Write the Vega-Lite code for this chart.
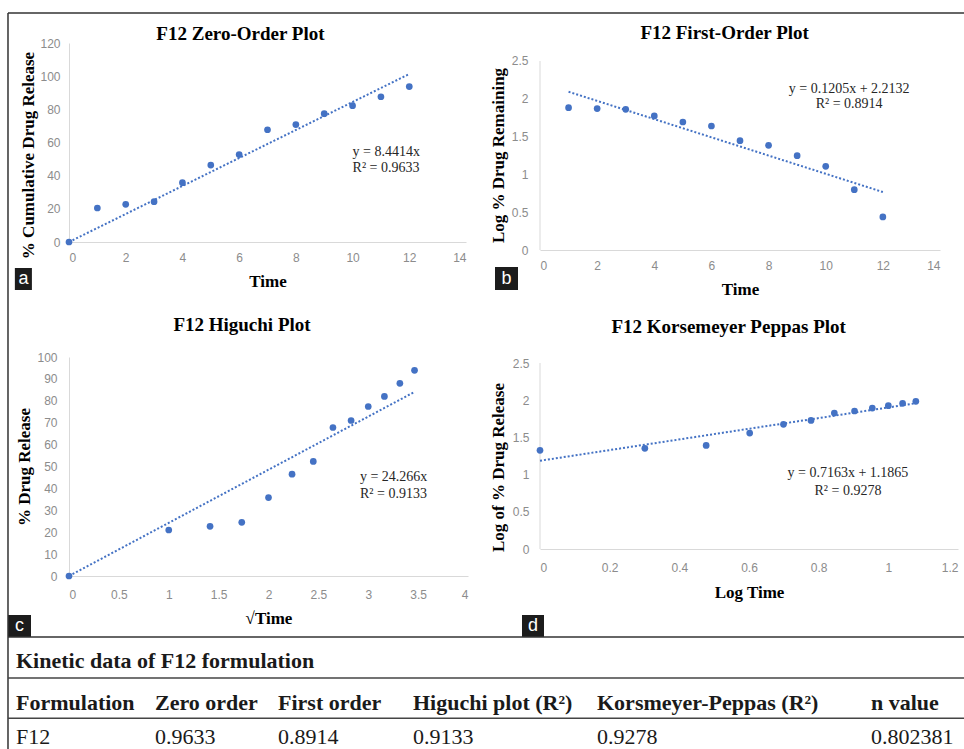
{
  "$schema": "https://vega.github.io/schema/vega-lite/v6.json",
  "padding": {"left": 7, "top": 12, "right": 0, "bottom": 0},
  "background": "white",
  "columns": 2,
  "spacing": {"row": 107, "column": 72},
  "bounds": "flush",
  "align": "each",
  "datasets": {
    "zero": [
      {"time": 0, "release": 0}, {"time": 1, "release": 20.5}, {"time": 2, "release": 22.7},
      {"time": 3, "release": 24.3}, {"time": 4, "release": 35.8}, {"time": 5, "release": 46.4},
      {"time": 6, "release": 52.7}, {"time": 7, "release": 67.7}, {"time": 8, "release": 70.8},
      {"time": 9, "release": 77.4}, {"time": 10, "release": 82.2}, {"time": 11, "release": 87.6},
      {"time": 12, "release": 93.7}
    ],
    "zeroFit": [{"time": 0, "release": 0}, {"time": 12, "release": 101.3}],
    "first": [
      {"time": 1, "logRemaining": 1.883}, {"time": 2, "logRemaining": 1.870}, {"time": 3, "logRemaining": 1.861},
      {"time": 4, "logRemaining": 1.773}, {"time": 5, "logRemaining": 1.693}, {"time": 6, "logRemaining": 1.640},
      {"time": 7, "logRemaining": 1.446}, {"time": 8, "logRemaining": 1.384}, {"time": 9, "logRemaining": 1.248},
      {"time": 10, "logRemaining": 1.107}, {"time": 11, "logRemaining": 0.798}, {"time": 12, "logRemaining": 0.437}
    ],
    "firstFit": [{"time": 1, "logRemaining": 2.093}, {"time": 12, "logRemaining": 0.767}],
    "higuchi": [
      {"sqrtTime": 0, "release": 0}, {"sqrtTime": 1, "release": 21.0}, {"sqrtTime": 1.414, "release": 22.7},
      {"sqrtTime": 1.732, "release": 24.5}, {"sqrtTime": 2, "release": 35.8}, {"sqrtTime": 2.236, "release": 46.5},
      {"sqrtTime": 2.449, "release": 52.3}, {"sqrtTime": 2.646, "release": 67.8}, {"sqrtTime": 2.828, "release": 71.0},
      {"sqrtTime": 3, "release": 77.4}, {"sqrtTime": 3.162, "release": 82.0}, {"sqrtTime": 3.317, "release": 88.0},
      {"sqrtTime": 3.464, "release": 93.9}
    ],
    "higuchiFit": [{"sqrtTime": 0, "release": 0}, {"sqrtTime": 3.464, "release": 84.06}],
    "peppas": [
      {"logTime": 0, "logRelease": 1.326}, {"logTime": 0.301, "logRelease": 1.353}, {"logTime": 0.477, "logRelease": 1.393},
      {"logTime": 0.602, "logRelease": 1.559}, {"logTime": 0.699, "logRelease": 1.676}, {"logTime": 0.778, "logRelease": 1.729},
      {"logTime": 0.845, "logRelease": 1.828}, {"logTime": 0.903, "logRelease": 1.855}, {"logTime": 0.954, "logRelease": 1.895},
      {"logTime": 1.0, "logRelease": 1.926}, {"logTime": 1.041, "logRelease": 1.958}, {"logTime": 1.079, "logRelease": 1.985}
    ],
    "peppasFit": [{"logTime": 0, "logRelease": 1.1865}, {"logTime": 1.079, "logRelease": 1.9595}],
    "kinetic": [
      {"row": 0, "col": 0, "label": "Kinetic data of F12 formulation", "kind": "caption"},
      {"row": 1, "col": 0, "label": "Formulation", "kind": "header"},
      {"row": 1, "col": 1, "label": "Zero order", "kind": "header"},
      {"row": 1, "col": 2, "label": "First order", "kind": "header"},
      {"row": 1, "col": 3, "label": "Higuchi plot (R²)", "kind": "header"},
      {"row": 1, "col": 4, "label": "Korsmeyer-Peppas (R²)", "kind": "header"},
      {"row": 1, "col": 5, "label": "n value", "kind": "header"},
      {"row": 2, "col": 0, "label": "F12", "kind": "value"},
      {"row": 2, "col": 1, "label": "0.9633", "kind": "value"},
      {"row": 2, "col": 2, "label": "0.8914", "kind": "value"},
      {"row": 2, "col": 3, "label": "0.9133", "kind": "value"},
      {"row": 2, "col": 4, "label": "0.9278", "kind": "value"},
      {"row": 2, "col": 5, "label": "0.802381", "kind": "value"}
    ]
  },
  "config": {
    "view": {"stroke": null},
    "font": "Liberation Serif",
    "axis": {
      "grid": false, "ticks": false, "domainColor": "#d9d9d9", "domainWidth": 1,
      "labelColor": "#8c8c8c", "labelFont": "Liberation Sans Narrow, Liberation Sans, sans-serif", "labelFontSize": 12,
      "labelExpr": "'' + datum.value", "labelOverlap": false, "labelBound": false,
      "titleFont": "Liberation Serif", "titleFontWeight": "bold", "titleFontSize": 17, "titleColor": "#000000"
    },
    "title": {"font": "Liberation Serif", "fontSize": 19, "fontWeight": "bold", "color": "#000000", "baseline": "alphabetic", "frame": "bounds"}
  },
  "concat": [
    {
      "width": 397, "height": 199,
      "title": {"text": "F12 Zero-Order Plot", "offset": -7},
      "layer": [
        {
          "data": {"name": "zeroFit"},
          "mark": {"type": "line", "color": "#4472C4", "strokeWidth": 2, "strokeDash": [2, 2]},
          "encoding": {
            "x": {"field": "time", "type": "quantitative", "scale": {"domain": [0, 14], "nice": false}, "axis": {"title": "Time", "values": [0, 2, 4, 6, 8, 10, 12, 14], "tickCount": 30, "labelPadding": 10, "titlePadding": 10}},
            "y": {"field": "release", "type": "quantitative", "scale": {"domain": [0, 120], "nice": false}, "axis": {"title": "% Cumulative Drug Release", "values": [0, 20, 40, 60, 80, 100, 120], "tickCount": 30, "labelPadding": 9, "titlePadding": 2, "titleY": 112}}
          }
        },
        {
          "data": {"name": "zero"},
          "mark": {"type": "circle", "color": "#4472C4", "size": 45, "opacity": 1},
          "encoding": {
            "x": {"field": "time", "type": "quantitative", "scale": {"domain": [0, 14], "nice": false}, "axis": {"title": "Time", "values": [0, 2, 4, 6, 8, 10, 12, 14], "tickCount": 30, "labelPadding": 10, "titlePadding": 10}},
            "y": {"field": "release", "type": "quantitative", "scale": {"domain": [0, 120], "nice": false}, "axis": {"title": "% Cumulative Drug Release", "values": [0, 20, 40, 60, 80, 100, 120], "tickCount": 30, "labelPadding": 9, "titlePadding": 2, "titleY": 112}}
          }
        },
        {
          "data": {"values": [{}]},
          "mark": {"type": "text", "text": ["y = 8.4414x", "R² = 0.9633"], "align": "left", "baseline": "middle", "font": "Liberation Serif", "fontSize": 14, "lineHeight": 16, "color": "#262626"},
          "encoding": {"x": {"datum": 10.0, "type": "quantitative"}, "y": {"datum": 54.3, "type": "quantitative"}}
        },
        {
          "data": {"values": [{}]},
          "mark": {"type": "rect", "color": "#1c1c1c"},
          "encoding": {"x": {"datum": -1.909, "type": "quantitative"}, "x2": {"datum": -1.308}, "y": {"datum": -15.68, "type": "quantitative"}, "y2": {"datum": -28.95}}
        },
        {
          "data": {"values": [{}]},
          "mark": {"type": "text", "text": "a", "color": "#ffffff", "font": "Liberation Sans", "fontSize": 18, "align": "center", "baseline": "middle"},
          "encoding": {"x": {"datum": -1.6085, "type": "quantitative"}, "y": {"datum": -22.3, "type": "quantitative"}}
        }
      ]
    },
    {
      "width": 400, "height": 207,
      "title": {"text": "F12 First-Order Plot", "offset": 0, "dx": 10},
      "layer": [
        {
          "data": {"values": [{}]},
          "mark": {"type": "rule", "color": "#d9d9d9", "strokeWidth": 1},
          "encoding": {"x": {"datum": 0, "type": "quantitative"}, "y": {"datum": 0, "type": "quantitative"}, "y2": {"datum": 2.5}}
        },
        {
          "data": {"name": "firstFit"},
          "mark": {"type": "line", "color": "#4472C4", "strokeWidth": 2, "strokeDash": [2, 2]},
          "encoding": {
            "x": {"field": "time", "type": "quantitative", "scale": {"domain": [0, 14], "nice": false}, "axis": {"title": "Time", "values": [0, 2, 4, 6, 8, 10, 12, 14], "tickCount": 30, "labelPadding": 10, "titlePadding": 10}},
            "y": {"field": "logRemaining", "type": "quantitative", "scale": {"domain": [0, 2.738], "nice": false}, "axis": {"title": "Log % Drug Remaining", "values": [0, 0.5, 1, 1.5, 2, 2.5], "tickCount": 30, "domain": false, "labelPadding": 12, "titlePadding": 4, "titleY": 112}}
          }
        },
        {
          "data": {"name": "first"},
          "mark": {"type": "circle", "color": "#4472C4", "size": 45, "opacity": 1},
          "encoding": {
            "x": {"field": "time", "type": "quantitative", "scale": {"domain": [0, 14], "nice": false}, "axis": {"title": "Time", "values": [0, 2, 4, 6, 8, 10, 12, 14], "tickCount": 30, "labelPadding": 10, "titlePadding": 10}},
            "y": {"field": "logRemaining", "type": "quantitative", "scale": {"domain": [0, 2.738], "nice": false}, "axis": {"title": "Log % Drug Remaining", "values": [0, 0.5, 1, 1.5, 2, 2.5], "tickCount": 30, "domain": false, "labelPadding": 12, "titlePadding": 4, "titleY": 112}}
          }
        },
        {
          "data": {"values": [{}]},
          "mark": {"type": "text", "text": ["y = 0.1205x + 2.2132", "R² = 0.8914"], "align": "center", "baseline": "middle", "font": "Liberation Serif", "fontSize": 14, "lineHeight": 15, "color": "#262626"},
          "encoding": {"x": {"datum": 10.82, "type": "quantitative"}, "y": {"datum": 2.123, "type": "quantitative"}}
        },
        {
          "data": {"values": [{}]},
          "mark": {"type": "rect", "color": "#1c1c1c"},
          "encoding": {"x": {"datum": -1.575, "type": "quantitative"}, "x2": {"datum": -0.77}, "y": {"datum": -0.225, "type": "quantitative"}, "y2": {"datum": -0.529}}
        },
        {
          "data": {"values": [{}]},
          "mark": {"type": "text", "text": "b", "color": "#ffffff", "font": "Liberation Sans", "fontSize": 18, "align": "center", "baseline": "middle"},
          "encoding": {"x": {"datum": -1.17, "type": "quantitative"}, "y": {"datum": -0.377, "type": "quantitative"}}
        }
      ]
    },
    {
      "width": 399, "height": 219,
      "title": {"text": "F12 Higuchi Plot", "offset": 16, "dx": 4},
      "layer": [
        {
          "data": {"name": "higuchiFit"},
          "mark": {"type": "line", "color": "#4472C4", "strokeWidth": 2, "strokeDash": [2, 2]},
          "encoding": {
            "x": {"field": "sqrtTime", "type": "quantitative", "scale": {"domain": [0, 4], "nice": false}, "axis": {"title": "√Time", "values": [0, 0.5, 1, 1.5, 2, 2.5, 3, 3.5, 4], "tickCount": 30, "labelPadding": 13, "titlePadding": 10}},
            "y": {"field": "release", "type": "quantitative", "scale": {"domain": [0, 100], "nice": false}, "axis": {"title": "% Drug Release", "values": [0, 10, 20, 30, 40, 50, 60, 70, 80, 90, 100], "tickCount": 30, "labelPadding": 12, "titlePadding": 3}}
          }
        },
        {
          "data": {"name": "higuchi"},
          "mark": {"type": "circle", "color": "#4472C4", "size": 45, "opacity": 1},
          "encoding": {
            "x": {"field": "sqrtTime", "type": "quantitative", "scale": {"domain": [0, 4], "nice": false}, "axis": {"title": "√Time", "values": [0, 0.5, 1, 1.5, 2, 2.5, 3, 3.5, 4], "tickCount": 30, "labelPadding": 13, "titlePadding": 10}},
            "y": {"field": "release", "type": "quantitative", "scale": {"domain": [0, 100], "nice": false}, "axis": {"title": "% Drug Release", "values": [0, 10, 20, 30, 40, 50, 60, 70, 80, 90, 100], "tickCount": 30, "labelPadding": 12, "titlePadding": 3}}
          }
        },
        {
          "data": {"values": [{}]},
          "mark": {"type": "text", "text": ["y = 24.266x", "R² = 0.9133"], "align": "left", "baseline": "middle", "font": "Liberation Serif", "fontSize": 14, "lineHeight": 17, "color": "#262626"},
          "encoding": {"x": {"datum": 2.917, "type": "quantitative"}, "y": {"datum": 45.4, "type": "quantitative"}}
        },
        {
          "data": {"values": [{}]},
          "mark": {"type": "rect", "color": "#1c1c1c"},
          "encoding": {"x": {"datum": -0.6115, "type": "quantitative"}, "x2": {"datum": -0.381}, "y": {"datum": -17.8, "type": "quantitative"}, "y2": {"datum": -27.85}}
        },
        {
          "data": {"values": [{}]},
          "mark": {"type": "text", "text": "c", "color": "#ffffff", "font": "Liberation Sans", "fontSize": 18, "align": "center", "baseline": "middle"},
          "encoding": {"x": {"datum": -0.496, "type": "quantitative"}, "y": {"datum": -22.8, "type": "quantitative"}}
        }
      ]
    },
    {
      "width": 418, "height": 192,
      "title": {"text": "F12 Korsemeyer Peppas Plot", "offset": 20, "dx": 5},
      "layer": [
        {
          "data": {"values": [{}]},
          "mark": {"type": "rule", "color": "#d9d9d9", "strokeWidth": 1},
          "encoding": {"x": {"datum": 0, "type": "quantitative"}, "y": {"datum": 0, "type": "quantitative"}, "y2": {"datum": 2.5}}
        },
        {
          "data": {"name": "peppasFit"},
          "mark": {"type": "line", "color": "#4472C4", "strokeWidth": 2, "strokeDash": [2, 2]},
          "encoding": {
            "x": {"field": "logTime", "type": "quantitative", "scale": {"domain": [0, 1.2], "nice": false}, "axis": {"title": "Log Time", "values": [0, 0.2, 0.4, 0.6, 0.8, 1, 1.2], "tickCount": 30, "labelPadding": 13, "titlePadding": 11}},
            "y": {"field": "logRelease", "type": "quantitative", "scale": {"domain": [0, 2.581], "nice": false}, "axis": {"title": "Log of % Drug Release", "values": [0, 0.5, 1, 1.5, 2, 2.5], "tickCount": 30, "domain": false, "labelPadding": 11, "titlePadding": 5, "titleY": 110}}
          }
        },
        {
          "data": {"name": "peppas"},
          "mark": {"type": "circle", "color": "#4472C4", "size": 45, "opacity": 1},
          "encoding": {
            "x": {"field": "logTime", "type": "quantitative", "scale": {"domain": [0, 1.2], "nice": false}, "axis": {"title": "Log Time", "values": [0, 0.2, 0.4, 0.6, 0.8, 1, 1.2], "tickCount": 30, "labelPadding": 13, "titlePadding": 11}},
            "y": {"field": "logRelease", "type": "quantitative", "scale": {"domain": [0, 2.581], "nice": false}, "axis": {"title": "Log of % Drug Release", "values": [0, 0.5, 1, 1.5, 2, 2.5], "tickCount": 30, "domain": false, "labelPadding": 11, "titlePadding": 5, "titleY": 110}}
          }
        },
        {
          "data": {"values": [{}]},
          "mark": {"type": "text", "text": ["y = 0.7163x + 1.1865", "R² = 0.9278"], "align": "center", "baseline": "middle", "font": "Liberation Serif", "fontSize": 14, "lineHeight": 18, "color": "#262626"},
          "encoding": {"x": {"datum": 0.884, "type": "quantitative"}, "y": {"datum": 1.021, "type": "quantitative"}}
        },
        {
          "data": {"values": [{}]},
          "mark": {"type": "rect", "color": "#1c1c1c"},
          "encoding": {"x": {"datum": -0.0517, "type": "quantitative"}, "x2": {"datum": 0.0115}, "y": {"datum": -0.887, "type": "quantitative"}, "y2": {"datum": -1.183}}
        },
        {
          "data": {"values": [{}]},
          "mark": {"type": "text", "text": "d", "color": "#ffffff", "font": "Liberation Sans", "fontSize": 18, "align": "center", "baseline": "middle"},
          "encoding": {"x": {"datum": -0.0201, "type": "quantitative"}, "y": {"datum": -1.035, "type": "quantitative"}}
        }
      ]
    },
    {
      "width": 1, "height": 60,
      "layer": [
        {
          "data": {"name": "kinetic"},
          "transform": [{"filter": "datum.kind !== 'value'"}],
          "mark": {"type": "text", "align": "left", "baseline": "alphabetic", "font": "Liberation Serif", "fontSize": 22, "fontWeight": "bold", "color": "#1a1a1a"},
          "encoding": {
            "x": {"field": "col", "type": "quantitative", "scale": {"domain": [0, 1, 2, 3, 4, 5], "range": [-53, 86, 209, 344, 528, 802], "nice": false, "zero": false}, "axis": null},
            "y": {"field": "row", "type": "quantitative", "scale": {"domain": [0, 1, 2], "range": [-15, 27, 61], "nice": false, "zero": false}, "axis": null},
            "text": {"field": "label"}
          }
        },
        {
          "data": {"name": "kinetic"},
          "transform": [{"filter": "datum.kind === 'value'"}],
          "mark": {"type": "text", "align": "left", "baseline": "alphabetic", "font": "Liberation Serif", "fontSize": 22, "fontWeight": "normal", "color": "#1a1a1a"},
          "encoding": {
            "x": {"field": "col", "type": "quantitative", "scale": {"domain": [0, 1, 2, 3, 4, 5], "range": [-53, 86, 209, 344, 528, 802], "nice": false, "zero": false}, "axis": null},
            "y": {"field": "row", "type": "quantitative", "scale": {"domain": [0, 1, 2], "range": [-15, 27, 61], "nice": false, "zero": false}, "axis": null},
            "text": {"field": "label"}
          }
        },
        {
          "data": {"values": [{}]},
          "mark": {"type": "rule", "color": "#333333", "strokeWidth": 1.5},
          "encoding": {"x": {"datum": -0.0576, "type": "quantitative", "axis": null}, "x2": {"datum": 5.361}, "y": {"datum": -15.595, "type": "quantitative", "axis": null}}
        },
        {
          "data": {"values": [{}]},
          "mark": {"type": "rule", "color": "#333333", "strokeWidth": 1.5},
          "encoding": {"x": {"datum": -0.0576, "type": "quantitative", "axis": null}, "y": {"datum": -15.595, "type": "quantitative", "axis": null}, "y2": {"datum": 2.5}}
        },
        {
          "data": {"values": [{}]},
          "mark": {"type": "rule", "color": "#333333", "strokeWidth": 1.5},
          "encoding": {"x": {"datum": -0.0576, "type": "quantitative", "axis": null}, "x2": {"datum": 5.361}, "y": {"datum": -0.738, "type": "quantitative", "axis": null}}
        },
        {
          "data": {"values": [{}]},
          "mark": {"type": "rule", "color": "#444444", "strokeWidth": 1.5},
          "encoding": {"x": {"datum": -0.0576, "type": "quantitative", "axis": null}, "x2": {"datum": 5.361}, "y": {"datum": 0.238, "type": "quantitative", "axis": null}}
        },
        {
          "data": {"values": [{}]},
          "mark": {"type": "rule", "color": "#444444", "strokeWidth": 1.5},
          "encoding": {"x": {"datum": -0.0576, "type": "quantitative", "axis": null}, "x2": {"datum": 5.361}, "y": {"datum": 1.243, "type": "quantitative", "axis": null}}
        }
      ]
    }
  ]
}
